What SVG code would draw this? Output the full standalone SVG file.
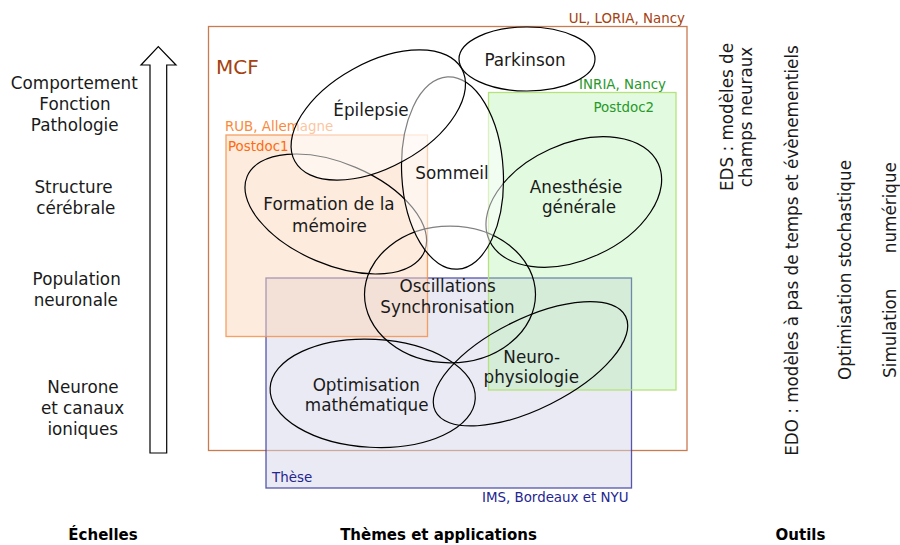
<svg xmlns="http://www.w3.org/2000/svg" width="900" height="545" viewBox="0 0 900 545">
<style>
text{font-family:"DejaVu Sans","Liberation Sans",sans-serif;fill:#1a1a1a}
.lbl{font-size:16.8px;text-anchor:middle}
.sm{font-size:13.4px}
.hd{font-size:15px;font-weight:bold;text-anchor:middle;fill:#000}
.el{fill:none;stroke:#000;stroke-width:1.2}
.elw{fill:#fff;fill-opacity:0.5;stroke:#000;stroke-width:1.2}
.tool{font-size:16.8px;text-anchor:middle}
</style>
<rect width="900" height="545" fill="#fff"/>

<g id="zone-mcf">
<rect x="208.5" y="26.5" width="478.5" height="424" fill="none" stroke="#c87a50" stroke-width="1.3"/>
<text class="sm" x="685" y="22.5" text-anchor="end" style="fill:#a5420f">UL, LORIA, Nancy</text>
<text x="216" y="74" style="fill:#a5420f;font-size:20px">MCF</text>
</g>

<g id="zone-these">
<rect x="266" y="278" width="365.5" height="210" fill="#d6d6ea" fill-opacity="0.5" stroke="#3a3aa0" stroke-opacity="0.85" stroke-width="1.3"/>
<text class="sm" x="272" y="481.5" style="fill:#25258f">Thèse</text>
<text class="sm" x="628.5" y="501.5" text-anchor="end" style="fill:#25258f">IMS, Bordeaux et NYU</text>
</g>

<g id="zone-postdoc1">
<rect x="226" y="135" width="201.5" height="201.5" fill="#fbd7bc" fill-opacity="0.5" stroke="#f5914a" stroke-opacity="0.85" stroke-width="1.3"/>
<text class="sm" x="225" y="130.5" style="fill:#f98a3c">RUB, Allemagne</text>
<text class="sm" x="228" y="150.5" style="fill:#ff6a10">Postdoc1</text>
</g>

<g id="zone-postdoc2">
<rect x="488.5" y="92.5" width="187.5" height="297.5" fill="#a8f0a0" fill-opacity="0.33" stroke="#b6e27e" stroke-width="1.3"/>
<text class="sm" x="666" y="89.3" text-anchor="end" style="fill:#27982a">INRIA, Nancy</text>
<text class="sm" x="593.5" y="111.5" style="fill:#27982a">Postdoc2</text>
</g>

<g id="connectors">
<polygon points="150,453 150,65 141,65 158.3,46.5 176,65 166.7,65 166.7,453" fill="#fff" stroke="#000" stroke-width="1.2"/>
</g>

<g id="node-optimisation">
<ellipse class="el" cx="372.7" cy="393.3" rx="102.7" ry="54" transform="rotate(3 372.7 393.3)"/>
</g>
<g id="node-neuro">
<ellipse class="el" cx="530.5" cy="363.8" rx="106.3" ry="44.9" transform="rotate(-26.5 530.5 363.8)"/>
</g>
<g id="node-oscillations">
<ellipse class="el" cx="450" cy="294.5" rx="85.5" ry="68.3"/>
</g>
<g id="node-anesthesie">
<ellipse class="el" cx="573.8" cy="202" rx="92.8" ry="58" transform="rotate(-24.4 573.8 202)"/>
</g>
<g id="node-formation">
<ellipse class="el" cx="335.8" cy="214" rx="96.3" ry="50.7" transform="rotate(23 335.8 214)"/>
</g>
<g id="node-parkinson">
<ellipse class="el" cx="527" cy="59" rx="68" ry="32"/>
</g>
<g id="node-sommeil">
<ellipse class="elw" cx="452.5" cy="173" rx="50.8" ry="96.3" transform="rotate(-3 452.5 173)"/>
</g>
<g id="node-epilepsie">
<ellipse class="elw" cx="378.3" cy="115" rx="95.4" ry="52.4" transform="rotate(-29 378.3 115)"/>
</g>

<g id="labels">
<text class="lbl" x="525" y="65.7">Parkinson</text>
<text class="lbl" x="371" y="115.5">Épilepsie</text>
<text class="lbl" x="452" y="179">Sommeil</text>
<text class="lbl" x="329" y="210">Formation de la</text>
<text class="lbl" x="329.5" y="231.7">mémoire</text>
<text class="lbl" x="576" y="193.3">Anesthésie</text>
<text class="lbl" x="579" y="213.3">générale</text>
<text class="lbl" x="447.7" y="292.3">Oscillations</text>
<text class="lbl" x="447.5" y="312.7">Synchronisation</text>
<text class="lbl" x="531.7" y="363.3">Neuro-</text>
<text class="lbl" x="531.3" y="383.3">physiologie</text>
<text class="lbl" x="366.3" y="390.7">Optimisation</text>
<text class="lbl" x="366.7" y="410.7">mathématique</text>
</g>

<g id="scales">
<text class="lbl" x="74.3" y="89.3">Comportement</text>
<text class="lbl" x="75" y="110">Fonction</text>
<text class="lbl" x="74.7" y="130.5">Pathologie</text>
<text class="lbl" x="73.5" y="193.3">Structure</text>
<text class="lbl" x="75.8" y="214.3">cérébrale</text>
<text class="lbl" x="76.7" y="285">Population</text>
<text class="lbl" x="75.8" y="306">neuronale</text>
<text class="lbl" x="83" y="393">Neurone</text>
<text class="lbl" x="82.5" y="414">et canaux</text>
<text class="lbl" x="82.7" y="435">ioniques</text>
</g>

<g id="tools">
<text class="tool" transform="translate(732.5 117) rotate(-90)">EDS : modèles de</text>
<text class="tool" transform="translate(751.5 117) rotate(-90)">champs neuraux</text>
<text class="tool" transform="translate(797.5 250.5) rotate(-90)">EDO : modèles à pas de temps et évènementiels</text>
<text class="tool" transform="translate(851 270) rotate(-90)">Optimisation stochastique</text>
<text class="tool" transform="translate(895.5 270) rotate(-90)" word-spacing="30">Simulation numérique</text>
</g>

<g id="headers">
<text class="hd" x="103" y="540">Échelles</text>
<text class="hd" x="438.5" y="540">Thèmes et applications</text>
<text class="hd" x="800.5" y="540">Outils</text>
</g>
</svg>
